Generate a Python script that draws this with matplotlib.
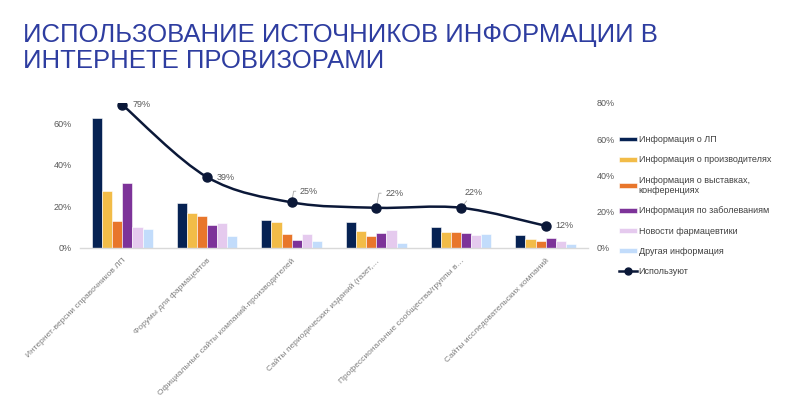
import matplotlib
matplotlib.use("Agg")
import matplotlib.pyplot as plt
import numpy as np
from matplotlib.path import Path
from matplotlib.patches import PathPatch
from matplotlib.lines import Line2D

plt.rcParams['font.family'] = ['Liberation Sans', 'DejaVu Sans']

title = "ИСПОЛЬЗОВАНИЕ ИСТОЧНИКОВ ИНФОРМАЦИИ В\nИНТЕРНЕТЕ ПРОВИЗОРАМИ"

categories = [
    "Интернет-версии справочников ЛП",
    "Форумы для фармацевтов",
    "Официальные сайты компаний-производителей",
    "Сайты периодических изданий (газет,…",
    "Профессиональные сообщества/группы в…",
    "Сайты исследовательских компаний",
]

series_names = [
    "Информация о ЛП",
    "Информация о производителях",
    "Информация о выставках,\nконференциях",
    "Информация по заболеваниям",
    "Новости фармацевтики",
    "Другая информация",
]

info_lp = [62.6, 21.7, 13.1, 12.2, 9.9, 6.0]
info_manuf = [27.4, 16.5, 12.5, 7.9, 7.6, 4.1]
info_events = [12.8, 15.1, 6.5, 5.7, 7.5, 3.1]
info_disease = [31.3, 10.9, 3.7, 7.0, 7.0, 4.5]
news_pharma = [9.9, 12.0, 6.3, 8.6, 6.0, 3.1]
other_info = [8.8, 5.8, 3.2, 2.3, 6.5, 1.5]

use_name = "Используют"
use_values = [79, 39, 25, 22, 22, 12]

colors = ['#062253', '#F2BC48', '#E8762B', '#7D3399', '#E5CAEE', '#C2DCFB']
series = [info_lp, info_manuf, info_events, info_disease, news_pharma, other_info]

fig = plt.figure(figsize=(8, 4), dpi=100)
fig.text(0.029, 0.942, title, fontsize=18.5, color='#2E3DA0', va='top', ha='left',
         linespacing=1.08)

ax = fig.add_axes([0.1, 0.38125, 0.635, 0.36125])
ax2 = ax.twinx()

x = np.arange(len(categories))
w = 0.12
handles = []
for i, (vals, c) in enumerate(zip(series, colors)):
    b = ax.bar(x + (i - 2.5) * w, vals, width=w, color=c, edgecolor='white',
               linewidth=0.4, zorder=2)
    handles.append(b)

ax.set_xlim(-0.5, len(categories) - 0.5)
ax.set_ylim(0, 70)
ax.set_yticks([0, 20, 40, 60])
ax.set_yticklabels([f"{v}%" for v in [0, 20, 40, 60]])
ax2.set_ylim(0, 80)
ax2.set_yticks([0, 20, 40, 60, 80])
ax2.set_yticklabels([f"{v}%" for v in [0, 20, 40, 60, 80]])

for a in (ax, ax2):
    for s in a.spines.values():
        s.set_visible(False)
    a.tick_params(axis='y', length=0, labelsize=6.5, labelcolor='#595959', pad=6)
ax.spines['bottom'].set_visible(True)
ax.spines['bottom'].set_color('#D9D9D9')
ax.spines['bottom'].set_linewidth(1.0)
ax.set_xticks(x)
ax.set_xticklabels(categories, rotation=45, ha='right', rotation_mode='anchor',
                   fontsize=6, color='#7F7F7F')
ax.tick_params(axis='x', length=0, pad=7)

# smooth line (Catmull-Rom rendered as Bezier curves)
pts = np.column_stack([x.astype(float), np.array(use_values, dtype=float)])
n = len(pts)
verts = [pts[0]]
codes = [Path.MOVETO]
for i in range(n - 1):
    p0 = pts[i - 1] if i > 0 else pts[i]
    p1 = pts[i]
    p2 = pts[i + 1]
    p3 = pts[i + 2] if i + 2 < n else pts[i + 1]
    c1 = p1 + (p2 - p0) / 6.0
    c2 = p2 - (p3 - p1) / 6.0
    verts += [c1, c2, p2]
    codes += [Path.CURVE4] * 3
line_col = '#0B1838'
ax2.add_patch(PathPatch(Path(verts, codes), facecolor='none', edgecolor=line_col,
                        linewidth=1.8, zorder=3))
ax2.plot(x, use_values, linestyle='none', marker='o', markersize=6.5,
         color=line_col, zorder=4)

offsets = [(7, 0, None), (7, 0, None), (6, 8, 'angle'), (6.5, 10.5, 'angle'),
           (2.5, 11, 'arc3'), (7, 0, None)]
for xi, v, (dx, dy, lead) in zip(x, use_values, offsets):
    if lead:
        cs = 'angle,angleA=0,angleB=80,rad=0' if lead == 'angle' else 'arc3'
        ax2.annotate(f"{v}%", xy=(xi, v), xytext=(dx, dy), textcoords='offset points',
                     fontsize=6.5, color='#595959', ha='left', va='center',
                     arrowprops=dict(arrowstyle='-', color='#A6A6A6', lw=0.6,
                                     shrinkA=1, shrinkB=3, connectionstyle=cs))
    else:
        ax2.annotate(f"{v}%", xy=(xi, v), xytext=(dx, dy), textcoords='offset points',
                     fontsize=6.5, color='#595959', ha='left', va='center')

line_handle = Line2D([], [], color=line_col, lw=1.8, marker='o', markersize=5)
leg = fig.legend(handles + [line_handle], series_names + [use_name],
                 loc='upper left', bbox_to_anchor=(0.774, 0.662), frameon=False,
                 fontsize=6.5, labelcolor='#404040', handlelength=2.0, handleheight=0.45,
                 handletextpad=0.15, labelspacing=1.25, borderaxespad=0, borderpad=0)

fig.savefig("out.png", dpi=100)
